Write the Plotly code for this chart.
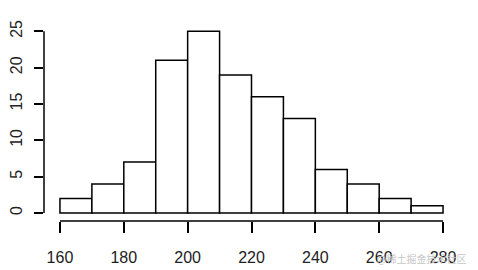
import plotly.graph_objects as go

bin_starts = [160, 170, 180, 190, 200, 210, 220, 230, 240, 250, 260, 270]
counts = [2, 4, 7, 21, 25, 19, 16, 13, 6, 4, 2, 1]
bin_width = 10
x_ticks = [160, 180, 200, 220, 240, 260, 280]
y_ticks = [0, 5, 10, 15, 20, 25]

centers = [s + bin_width / 2 for s in bin_starts]

fig = go.Figure()
fig.add_trace(go.Bar(
    x=centers, y=counts, width=[bin_width] * len(counts),
    marker=dict(color="white", line=dict(color="black", width=1.5)),
    hoverinfo="skip",
))

axis_font = dict(family="Liberation Sans, Arial, sans-serif", size=16, color="#222")

fig.update_layout(
    width=478, height=270,
    margin=dict(l=44, r=19, t=24, b=49, autoexpand=False),
    paper_bgcolor="white", plot_bgcolor="white",
    showlegend=False,
    xaxis=dict(range=[155, 285], tickvals=x_ticks, ticks="outside", ticklen=11,
               tickwidth=1.5, tickcolor="black", showline=False, showgrid=False,
               zeroline=False, tickfont=axis_font, ticklabelstandoff=11, automargin=False),
    yaxis=dict(range=[-1.1, 26], tickvals=y_ticks, ticks="outside", ticklen=9,
               tickwidth=1.5, tickcolor="black", showline=False, showgrid=False,
               zeroline=False, tickangle=-90, tickfont=axis_font, ticklabelstandoff=6,
               automargin=False),
)

# R-style axis lines spanning only the first to last tick
fig.add_shape(type="line", xref="x", yref="paper", x0=x_ticks[0], x1=x_ticks[-1],
              y0=0, y1=0, line=dict(color="black", width=1.5))
fig.add_shape(type="line", xref="paper", yref="y", x0=0, x1=0,
              y0=y_ticks[0], y1=y_ticks[-1], line=dict(color="black", width=1.5))

fig.add_annotation(text="@稀土掘金技术社区", xref="paper", yref="paper",
                   x=1.022, y=-0.19, xanchor="right", yanchor="middle", showarrow=False,
                   font=dict(family="Noto Sans CJK SC", size=10, color="#c8c8c8"))

fig.write_html("out.html")
